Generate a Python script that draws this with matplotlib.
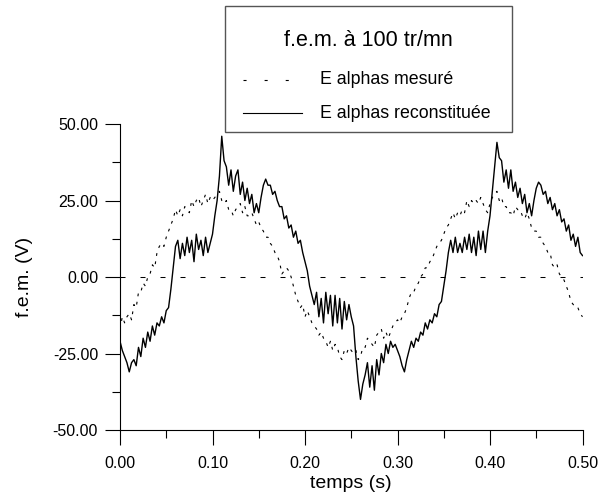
import matplotlib
matplotlib.use("Agg")
import matplotlib.pyplot as plt
import numpy as np
from matplotlib.lines import Line2D
from matplotlib.patches import Rectangle

plt.rcParams['font.family'] = ['Liberation Sans', 'DejaVu Sans']
plt.rcParams['lines.scale_dashes'] = False

# === Data ===
dt = 0.0025  # sampling step (s)

e_reconstituee = [
    -21, -24, -26, -28, -31, -28, -27, -29, -23, -26,
    -20, -23, -18, -21, -16, -19, -15, -16, -13, -15,
    -11, -10, -4, 3, 10, 12, 6, 11, 7, 13,
    8, 12, 5, 14, 9, 12, 7, 13, 8, 11,
    14, 20, 25, 33, 46, 38, 36, 30, 35, 28,
    33, 35, 27, 31, 25, 29, 24, 27, 21, 24,
    21, 26, 30, 32, 30, 30, 27, 28, 25, 23,
    23, 19, 20, 16, 17, 13, 15, 11, 12, 8,
    5, 2, -3, -6, -9, -5, -13, -7, -15, -5,
    -12, -6, -16, -6, -15, -7, -17, -8, -14, -9,
    -13, -16, -26, -34, -40, -35, -32, -28, -36, -29,
    -37, -27, -32, -25, -28, -22, -25, -21, -23, -22,
    -24, -26, -29, -31, -27, -24, -21, -23, -20, -21,
    -18, -19, -15, -17, -14, -15, -12, -13, -9, -8,
    -3, 2, 8, 12, 8, 13, 8, 11, 8, 13,
    9, 14, 8, 13, 7, 15, 9, 15, 8, 15,
    20, 28, 36, 44, 39, 38, 31, 35, 29, 35,
    28, 31, 26, 29, 24, 27, 21, 24, 20, 25,
    29, 31, 30, 27, 28, 24, 26, 22, 24, 20,
    22, 18, 19, 15, 17, 12, 14, 10, 13, 8,
    7,
]

e_mesure = [
    -17, -13, -15, -13, -12, -14, -9, -10, -5, -5,
    -2, -3, 0, 1, 4, 3, 8, 10, 11, 10,
    13, 15, 17, 19, 22, 20, 22, 20, 23, 22,
    21, 25, 23, 25, 26, 23, 25, 27, 24, 26,
    25, 26, 27, 28, 25, 24, 25, 22, 22, 20,
    22, 23, 24, 21, 23, 20, 20, 21, 19, 17,
    18, 16, 15, 13, 13, 11, 10, 8, 7, 5,
    1, 2, 3, 2, 0, -3, -6, -8, -10, -9,
    -13, -11, -13, -15, -16, -17, -19, -18, -20, -21,
    -23, -21, -24, -22, -23, -26, -27, -24, -25, -23,
    -24, -25, -24, -27, -26, -23, -23, -20, -21, -22,
    -23, -19, -18, -17, -20, -18, -20, -18, -16, -15,
    -14, -15, -13, -12, -10, -7, -5, -5, -3, -2,
    0, 1, 3, 3, 5, 6, 8, 10, 11, 12,
    14, 16, 17, 19, 21, 19, 21, 20, 22, 21,
    25, 23, 25, 24, 25, 24, 26, 24, 22, 21,
    24, 26, 27, 28, 25, 26, 23, 23, 21, 21,
    20, 23, 22, 22, 20, 19, 21, 19, 16, 15,
    15, 13, 13, 11, 10, 8, 8, 4, 3, 4,
    1, 0, -1, -3, -5, -8, -9, -10, -10, -12,
    -13,
]

temps = np.arange(len(e_mesure)) * dt

x_ticks = [0.0, 0.1, 0.2, 0.3, 0.4, 0.5]
y_ticks = [-50, -25, 0, 25, 50]

# === Figure ===
fig = plt.figure(figsize=(5.98, 4.95), dpi=100)
ax = fig.add_axes([120 / 598, 65 / 495, 462.5 / 598, 306 / 495])

ax.plot(temps, e_mesure, color='black', lw=0.8, dashes=(2.0, 4.0))
ax.plot(temps, e_reconstituee, color='black', lw=1.0)
ax.axhline(0, color='black', lw=0.75, dashes=(3.6, 10.8))

ax.set_xlim(0, 0.5)
ax.set_ylim(-50, 50)
ax.set_xticks(x_ticks)
ax.set_xticklabels([f"{v:.2f}" for v in x_ticks])
ax.set_xticks(np.arange(0.05, 0.5, 0.1), minor=True)
ax.set_yticks(y_ticks)
ax.set_yticklabels([f"{v:.2f}" for v in y_ticks])
ax.set_yticks([-37.5, -12.5, 12.5, 37.5], minor=True)

for s in ['top', 'right']:
    ax.spines[s].set_visible(False)
for s in ['left', 'bottom']:
    ax.spines[s].set_linewidth(0.8)

ax.tick_params(which='major', direction='out', length=10.8, width=0.8,
               labelsize=11.5, pad=5)
ax.tick_params(which='minor', direction='out', length=5.8, width=0.8)
ax.tick_params(axis='x', which='major', pad=8)

ax.set_xlabel('temps (s)', fontsize=14, labelpad=3)
ax.set_ylabel('f.e.m. (V)', fontsize=14, labelpad=14)

# === Legend box (figure pixels) ===
W, H = 598, 495
def fx(px):
    return px / W
def fy(py):
    return 1 - py / H

fig.patches.append(Rectangle((fx(225), fy(132)), (512 - 225) / W, (132 - 6) / H,
                             transform=fig.transFigure, facecolor='white',
                             edgecolor='#555555', lw=1.0, zorder=5))
fig.text(fx(368), fy(41), 'f.e.m. à 100 tr/mn', fontsize=15.5,
         ha='center', va='center', zorder=6)
fig.lines.append(Line2D([fx(243), fx(302)], [fy(80), fy(80)], transform=fig.transFigure,
                        color='black', lw=0.8, dashes=(2.2, 13.0), zorder=6))
fig.lines.append(Line2D([fx(243), fx(302)], [fy(113), fy(113)], transform=fig.transFigure,
                        color='black', lw=0.8, zorder=6))
fig.text(fx(320), fy(80), 'E alphas mesuré', fontsize=12.8, ha='left', va='center', zorder=6)
fig.text(fx(320), fy(113), 'E alphas reconstituée', fontsize=12.8, ha='left', va='center', zorder=6)

fig.savefig('out.png', dpi=100)
